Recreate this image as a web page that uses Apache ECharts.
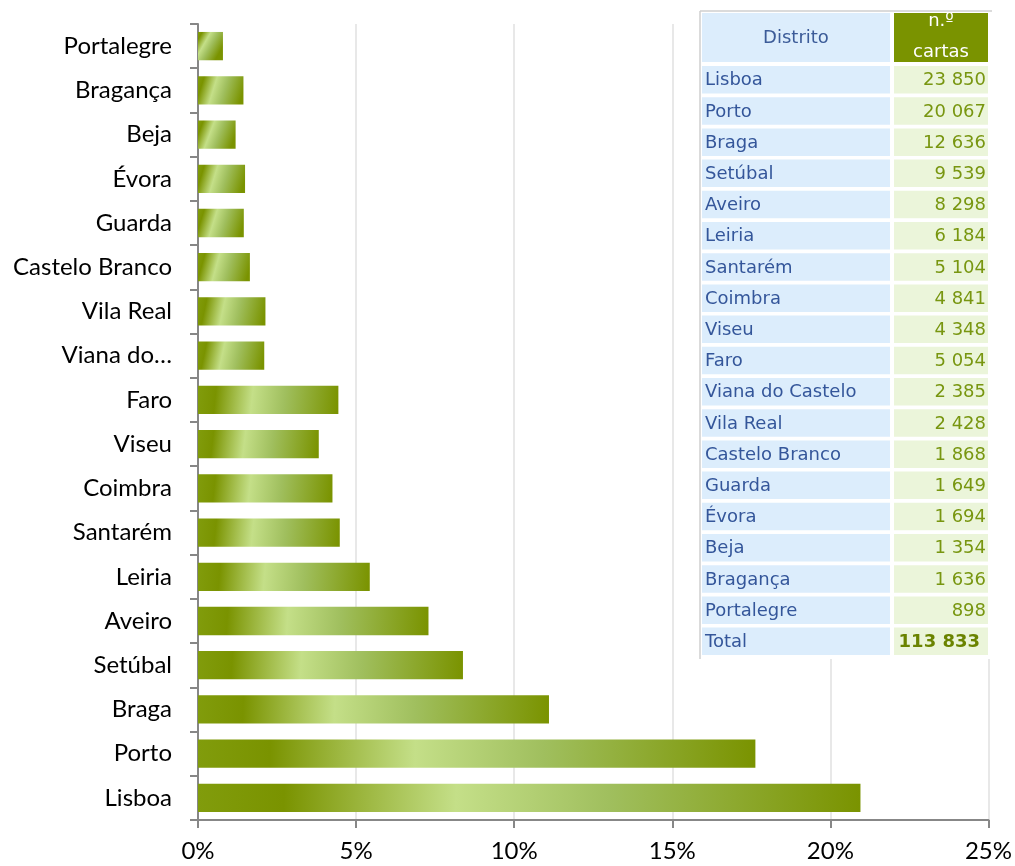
<!DOCTYPE html>
<html>
<head>
<meta charset="utf-8">
<script src="https://cdn.jsdelivr.net/npm/echarts@6/dist/echarts.min.js"></script>
<style>
html, body { margin: 0; padding: 0; background: #fff; }
#chart { width: 1015px; height: 866px; }
</style>
</head>
<body>
<div id="chart"></div>
<script>
// districts, bottom to top on the chart / top to bottom in the table
var distritos = ['Lisboa', 'Porto', 'Braga', 'Setúbal', 'Aveiro', 'Leiria', 'Santarém', 'Coimbra', 'Viseu',
    'Faro', 'Viana do Castelo', 'Vila Real', 'Castelo Branco', 'Guarda', 'Évora', 'Beja', 'Bragança', 'Portalegre'];
var cartas = [23850, 20067, 12636, 9539, 8298, 6184, 5104, 4841, 4348,
    5054, 2385, 2428, 1868, 1649, 1694, 1354, 1636, 898];
var xTicks = [0, 5, 10, 15, 20, 25];
var headerNome = 'Distrito';
var headerValor = ['n.º', 'cartas'];
var totalLabel = 'Total';

var total = 0;
for (var i = 0; i < cartas.length; i++) total += cartas[i];
var shares = cartas.map(function (c) { return c / total * 100; });

function fmt(n) {
    return String(n).replace(/\B(?=(\d{3})+(?!\d))/g, ' ');
}

// table drawn as graphic elements
var tX = 702, tW1 = 188, tX2 = 894, tW2 = 94;
var rowTop = 66, rowStep = 31.2, rowH = 27.5;
var tableFont = '"DejaVu Sans", sans-serif';
var graphics = [
    { type: 'rect', shape: { x: 700, y: 11, width: 292, height: 648 }, style: { fill: '#fff' } },
    { type: 'line', shape: { x1: 700, y1: 11, x2: 992, y2: 11 }, style: { stroke: '#cfcfcf', lineWidth: 1.5 } },
    { type: 'line', shape: { x1: 700, y1: 11, x2: 700, y2: 659 }, style: { stroke: '#cfcfcf', lineWidth: 1.5 } },
    { type: 'rect', shape: { x: tX, y: 13, width: tW1, height: 49 }, style: { fill: '#dcedfc' } },
    { type: 'rect', shape: { x: tX2, y: 13, width: tW2, height: 49 }, style: { fill: '#7a9300' } },
    { type: 'text', style: { text: headerNome, x: tX + tW1 / 2, y: 38, fill: '#3b5b98', font: '18px ' + tableFont, textAlign: 'center', textVerticalAlign: 'middle' } },
    { type: 'text', style: { text: headerValor[0], x: tX2 + tW2 / 2, y: 21, fill: '#fff', font: '18px ' + tableFont, textAlign: 'center', textVerticalAlign: 'middle' } },
    { type: 'text', style: { text: headerValor[1], x: tX2 + tW2 / 2, y: 52, fill: '#fff', font: '18px ' + tableFont, textAlign: 'center', textVerticalAlign: 'middle' } }
];
var rows = distritos.map(function (d, i) { return [d, fmt(cartas[i]), false]; });
rows.push([totalLabel, fmt(total), true]);
rows.forEach(function (r, i) {
    var y = rowTop + i * rowStep;
    graphics.push({ type: 'rect', shape: { x: tX, y: y, width: tW1, height: rowH }, style: { fill: '#dcedfc' } });
    graphics.push({ type: 'rect', shape: { x: tX2, y: y, width: tW2, height: rowH }, style: { fill: '#ebf5da' } });
    graphics.push({ type: 'text', style: { text: r[0], x: tX + 3, y: y + rowH / 2 + 1, fill: '#34569a', font: '18px ' + tableFont, textAlign: 'left', textVerticalAlign: 'middle' } });
    graphics.push({ type: 'text', style: { text: r[1], x: r[2] ? tX2 + tW2 - 8 : tX2 + tW2 - 2, y: y + rowH / 2 + 1, fill: r[2] ? '#6a8300' : '#789610', font: (r[2] ? 'bold ' : '') + '18px ' + tableFont, textAlign: 'right', textVerticalAlign: 'middle' } });
});

var barColor = new echarts.graphic.LinearGradient(0, 0, 1, 0.5, [
    { offset: 0, color: '#819c0c' },
    { offset: 0.13, color: '#7a9300' },
    { offset: 0.39, color: '#c4df88' },
    { offset: 0.62, color: '#a0bf5e' },
    { offset: 1, color: '#7a9300' }
]);

var option = {
    animation: false,
    backgroundColor: '#fff',
    grid: { left: 198, right: 25, top: 24, bottom: 46 },
    xAxis: {
        type: 'value',
        min: xTicks[0],
        max: xTicks[xTicks.length - 1],
        interval: xTicks[1] - xTicks[0],
        axisLine: { show: true, lineStyle: { color: '#878787', width: 2 } },
        axisTick: { show: true, length: 8, lineStyle: { color: '#878787', width: 2 } },
        splitLine: { show: true, lineStyle: { color: '#e8e8e8', width: 2 } },
        axisLabel: { formatter: '{value}%', color: '#000', fontSize: 24, fontFamily: 'Lato', margin: 19 }
    },
    yAxis: {
        type: 'category',
        data: distritos,
        axisLine: { show: true, lineStyle: { color: '#878787', width: 2 } },
        axisTick: { show: true, length: 8, lineStyle: { color: '#878787', width: 2 } },
        axisLabel: {
            color: '#000', fontSize: 24, fontFamily: 'Lato', margin: 26,
            formatter: function (v) { return v.length > 15 ? v.slice(0, 8) + '…' : v; }
        }
    },
    series: [{
        type: 'bar',
        data: shares,
        barCategoryGap: '36%',
        itemStyle: { color: barColor }
    }],
    graphic: { elements: graphics.map(function (g) { g.z = 100; return g; }) }
};

var myChart = echarts.init(document.getElementById('chart'));
myChart.setOption(option);
</script>
</body>
</html>
